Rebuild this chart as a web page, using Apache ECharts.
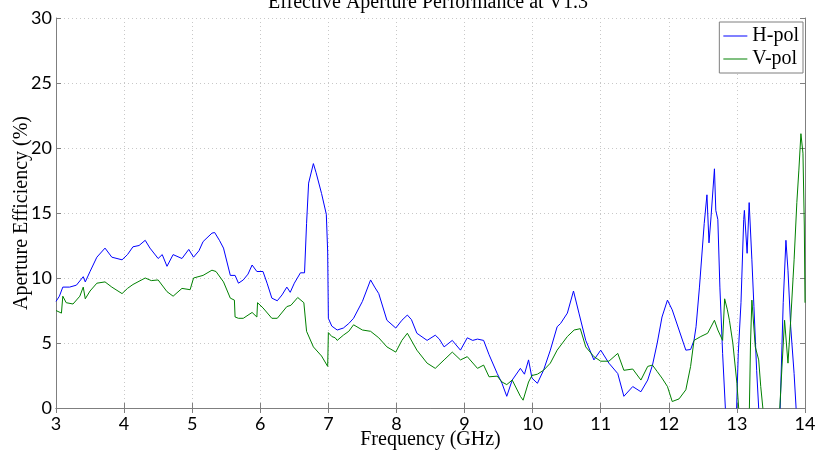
<!DOCTYPE html>
<html>
<head>
<meta charset="utf-8">
<script src="https://cdn.jsdelivr.net/npm/echarts@6/dist/echarts.min.js"></script>
<style>
  html, body { margin: 0; padding: 0; background: #fff; }
  #chart { width: 817px; height: 453px; }
</style>
</head>
<body>
<div id="chart"></div>
<script>
// H-pol (blue) readings, GHz / %
const hFreq = [3.00, 3.05, 3.10, 3.20, 3.30, 3.40, 3.43, 3.50, 3.60, 3.72, 3.82, 3.97, 4.05, 4.13, 4.22, 4.31, 4.38, 4.50, 4.56, 4.63, 4.72, 4.85, 4.95, 5.02, 5.10, 5.16, 5.29, 5.33, 5.40, 5.46, 5.56, 5.63, 5.68, 5.75, 5.82, 5.88, 5.95, 6.04, 6.10, 6.17, 6.25, 6.32, 6.39, 6.44, 6.50, 6.59, 6.65, 6.68, 6.71, 6.78, 6.82, 6.90, 6.97, 6.99, 7.00, 7.05, 7.13, 7.22, 7.30, 7.37, 7.50, 7.62, 7.68, 7.74, 7.86, 7.99, 8.08, 8.16, 8.22, 8.30, 8.45, 8.57, 8.63, 8.70, 8.82, 8.94, 9.04, 9.12, 9.19, 9.28, 9.36, 9.48, 9.55, 9.62, 9.70, 9.82, 9.88, 9.94, 9.99, 10.07, 10.16, 10.26, 10.36, 10.41, 10.51, 10.60, 10.68, 10.78, 10.90, 11.00, 11.12, 11.25, 11.34, 11.47, 11.59, 11.69, 11.76, 11.83, 11.90, 11.98, 12.05, 12.15, 12.25, 12.32, 12.37, 12.40, 12.45, 12.52, 12.56, 12.59, 12.62, 12.67, 12.69, 12.72, 12.75, 12.79, 12.84, 12.99, 13.02, 13.06, 13.10, 13.11, 13.15, 13.18, 13.22, 13.25, 13.29, 13.33, 13.63, 13.68, 13.72, 13.75, 13.79, 13.84, 13.88, 14.00];
const hVal = [8.2, 8.6, 9.3, 9.3, 9.45, 10.1, 9.7, 10.5, 11.6, 12.3, 11.6, 11.4, 11.8, 12.4, 12.5, 12.9, 12.3, 11.5, 11.8, 10.9, 11.8, 11.5, 12.2, 11.6, 12.1, 12.8, 13.45, 13.5, 12.9, 12.3, 10.2, 10.2, 9.6, 9.85, 10.3, 11.0, 10.5, 10.5, 9.6, 8.45, 8.25, 8.7, 9.3, 8.9, 9.6, 10.4, 10.4, 14.2, 17.3, 18.8, 18.1, 16.5, 14.9, 12.0, 6.9, 6.3, 6.0, 6.15, 6.5, 6.9, 8.2, 9.85, 9.3, 8.8, 6.75, 6.15, 6.75, 7.15, 6.8, 5.75, 5.2, 5.6, 5.3, 4.7, 5.2, 4.45, 5.4, 5.2, 5.3, 5.2, 4.1, 2.65, 1.9, 0.9, 2.15, 3.05, 2.6, 3.7, 2.3, 1.9, 2.9, 4.45, 6.25, 6.5, 7.3, 9.0, 7.3, 5.2, 3.7, 4.45, 3.45, 2.65, 0.9, 1.65, 1.25, 2.15, 3.3, 5.0, 7.0, 8.3, 7.55, 6.0, 4.45, 4.5, 5.2, 6.25, 9.3, 14.2, 16.4, 12.7, 14.7, 18.4, 15.2, 14.5, 9.3, 4.2, -1, -1, 4.2, 8.1, 14.5, 15.2, 11.9, 15.8, 11.4, 7.8, 2.9, -1, -1, 8.1, 12.9, 10.6, 6.25, 2.65, -1, -1];

// V-pol (green) readings
const vFreq = [3.00, 3.08, 3.10, 3.15, 3.25, 3.35, 3.40, 3.43, 3.50, 3.60, 3.72, 3.82, 3.97, 4.05, 4.13, 4.31, 4.40, 4.50, 4.63, 4.72, 4.85, 4.97, 5.02, 5.16, 5.29, 5.35, 5.46, 5.56, 5.62, 5.63, 5.68, 5.75, 5.88, 5.95, 5.96, 6.04, 6.17, 6.25, 6.39, 6.45, 6.55, 6.64, 6.65, 6.68, 6.78, 6.90, 6.99, 7.00, 7.05, 7.10, 7.13, 7.22, 7.30, 7.37, 7.50, 7.62, 7.74, 7.86, 7.99, 8.08, 8.16, 8.30, 8.45, 8.57, 8.70, 8.82, 8.94, 9.04, 9.19, 9.28, 9.36, 9.48, 9.55, 9.62, 9.70, 9.82, 9.86, 9.94, 9.99, 10.07, 10.16, 10.26, 10.36, 10.51, 10.61, 10.70, 10.78, 10.90, 11.00, 11.12, 11.25, 11.34, 11.47, 11.59, 11.69, 11.76, 11.83, 11.90, 11.98, 12.05, 12.15, 12.25, 12.32, 12.37, 12.47, 12.57, 12.67, 12.72, 12.79, 12.82, 12.86, 12.89, 12.94, 13.00, 13.04, 13.18, 13.20, 13.22, 13.27, 13.32, 13.35, 13.40, 13.62, 13.66, 13.70, 13.75, 13.79, 13.84, 13.88, 13.91, 13.94, 13.97, 13.99, 14.00];
const vVal = [7.5, 7.3, 8.6, 8.1, 8.0, 8.6, 9.3, 8.4, 9.0, 9.6, 9.7, 9.3, 8.8, 9.2, 9.5, 10.0, 9.8, 9.85, 8.95, 8.6, 9.2, 9.1, 10.0, 10.2, 10.6, 10.5, 9.7, 8.45, 8.3, 7.0, 6.9, 6.9, 7.35, 7.0, 8.1, 7.7, 6.9, 6.9, 7.8, 7.9, 8.5, 8.1, 8.0, 5.9, 4.7, 4.0, 3.2, 5.8, 5.5, 5.4, 5.2, 5.6, 5.9, 6.4, 6.0, 5.9, 5.4, 4.7, 4.3, 5.2, 5.75, 4.45, 3.45, 3.05, 3.7, 4.3, 3.7, 3.95, 3.05, 3.3, 2.4, 2.45, 2.0, 1.8, 2.15, 0.9, 0.6, 2.0, 2.5, 2.6, 2.9, 3.45, 4.45, 5.5, 6.0, 6.1, 4.7, 3.95, 3.6, 3.6, 4.2, 2.9, 3.0, 2.15, 3.2, 3.3, 2.8, 2.3, 1.65, 0.5, 0.7, 1.4, 3.2, 5.2, 5.5, 5.75, 6.75, 6.0, 5.2, 8.4, 7.55, 6.75, 5.0, 1.9, -1, -1, 5.0, 8.3, 4.7, 3.7, 1.65, -1, -1, 3.0, 6.75, 3.45, 6.75, 11.4, 15.8, 18.3, 21.1, 19.6, 14.0, 8.1];

const xTicks = { min: 3, max: 14, step: 1 };
const yTicks = { min: 0, max: 30, step: 5 };

const pairs = (xs, ys) => xs.map((x, i) => [x, ys[i]]);

const SERIF = 'Liberation Serif';
const SANS = 'Lato';
const chart = echarts.init(document.getElementById('chart'));

const gridLine = { show: true, lineStyle: { color: '#c8c8c8', type: [1, 3], width: 1 } };
const boxLine = { show: true, lineStyle: { color: '#7f7f7f', width: 1 } };
const inTick = { show: true, inside: true, length: 5, lineStyle: { color: '#7f7f7f' } };

chart.setOption({
  animation: false,
  backgroundColor: '#fff',
  title: {
    text: 'Effective Aperture Performance at V1.3',
    left: 423,
    textAlign: 'center',
    top: -12,
    textStyle: { fontFamily: SERIF, fontSize: 20, fontWeight: 'normal', color: '#000' },
  },
  legend: {
    orient: 'vertical',
    right: 14,
    top: 22,
    backgroundColor: '#fff',
    borderColor: '#7f7f7f',
    borderWidth: 1,
    borderRadius: 0,
    padding: [4, 4, 4, 4],
    itemGap: 3,
    itemWidth: 24,
    itemHeight: 1,
    icon: 'rect',
    textStyle: { fontFamily: SERIF, fontSize: 20, color: '#000' },
    data: ['H-pol', 'V-pol'],
  },
  grid: { left: 56, right: 12, top: 18, bottom: 45, outerBoundsMode: 'none' },
  xAxis: [
    {
      type: 'value',
      min: xTicks.min,
      max: xTicks.max,
      interval: xTicks.step,
      name: 'Frequency (GHz)',
      nameLocation: 'middle',
      nameGap: 22,
      nameMoveOverlap: false,
      nameTextStyle: { fontFamily: SERIF, fontSize: 20, color: '#000' },
      axisLine: boxLine,
      axisTick: inTick,
      axisLabel: { fontFamily: SANS, fontSize: 18, color: '#000', margin: 7 },
      splitLine: gridLine,
    },
    {
      type: 'value',
      position: 'top',
      min: xTicks.min,
      max: xTicks.max,
      interval: xTicks.step,
      axisLine: boxLine,
      axisTick: inTick,
      axisLabel: { show: false },
      splitLine: { show: false },
    },
  ],
  yAxis: [
    {
      type: 'value',
      min: yTicks.min,
      max: yTicks.max,
      interval: yTicks.step,
      name: 'Aperture Efficiency (%)',
      nameLocation: 'middle',
      nameGap: 24,
      nameMoveOverlap: false,
      nameTextStyle: { fontFamily: SERIF, fontSize: 20, color: '#000' },
      axisLine: boxLine,
      axisTick: inTick,
      axisLabel: { fontFamily: SANS, fontSize: 18, color: '#000', margin: 4 },
      splitLine: gridLine,
    },
    {
      type: 'value',
      position: 'right',
      min: yTicks.min,
      max: yTicks.max,
      interval: yTicks.step,
      axisLine: boxLine,
      axisTick: inTick,
      axisLabel: { show: false },
      splitLine: { show: false },
    },
  ],
  series: [
    {
      name: 'H-pol',
      type: 'line',
      data: pairs(hFreq, hVal),
      showSymbol: false,
      clip: true,
      color: '#0000ff',
      lineStyle: { width: 1, color: '#0000ff' },
      z: 3,
    },
    {
      name: 'V-pol',
      type: 'line',
      data: pairs(vFreq, vVal),
      showSymbol: false,
      clip: true,
      color: '#008000',
      lineStyle: { width: 1, color: '#008000' },
      z: 4,
    },
  ],
});
</script>
</body>
</html>
